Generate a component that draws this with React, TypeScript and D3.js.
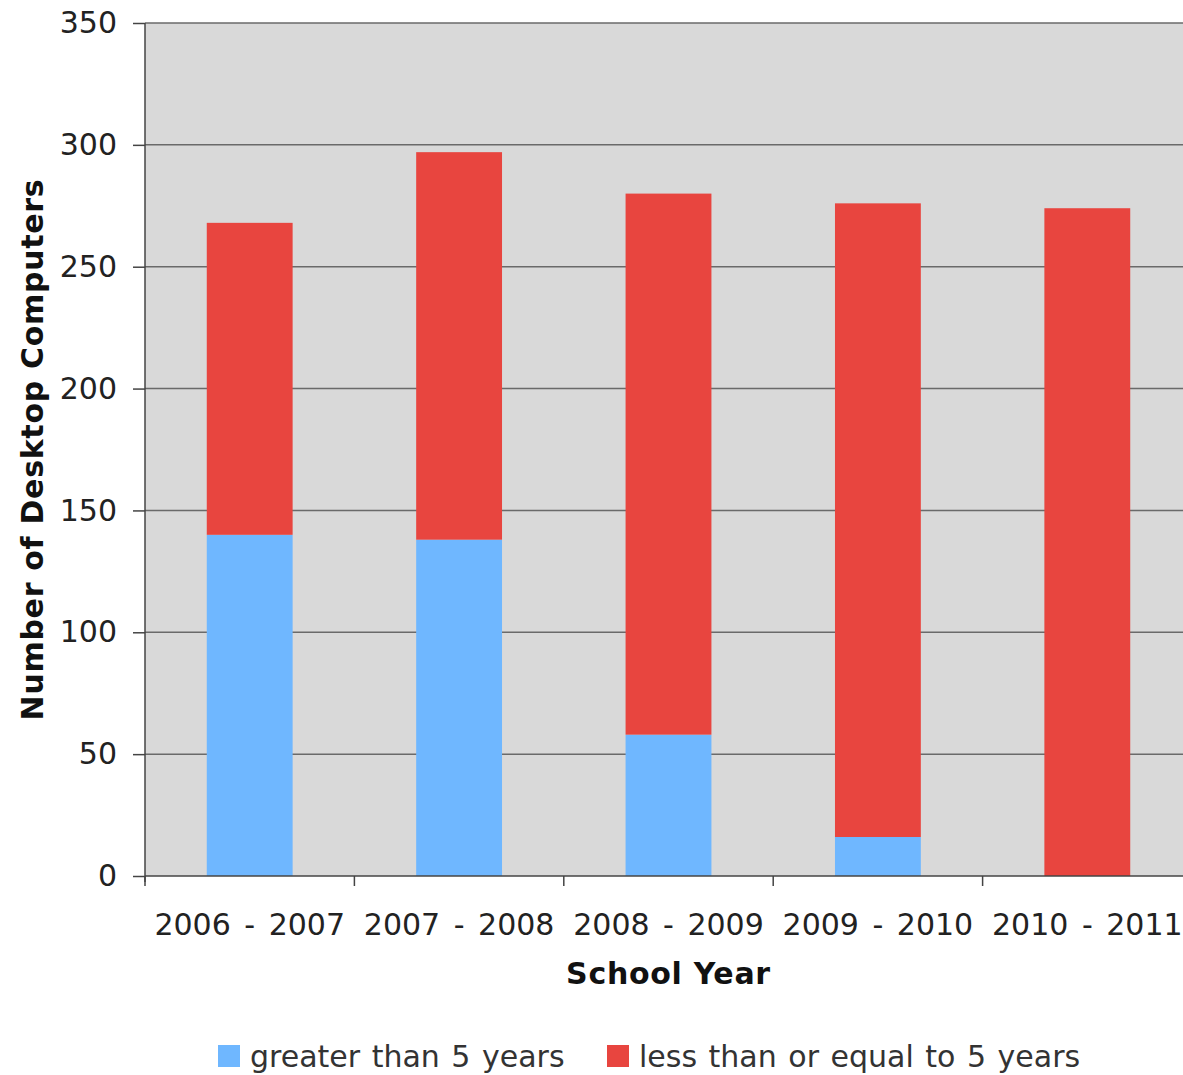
import React, { useRef, useEffect } from 'react';
import * as d3 from 'd3';

const schoolYears = ['2006 - 2007', '2007 - 2008', '2008 - 2009', '2009 - 2010', '2010 - 2011'];
const olderThanFive = [140, 138, 58, 16, 0];
const fiveOrNewer = [128, 159, 222, 260, 274];
const seriesNames = ['greater than 5 years', 'less than or equal to 5 years'];
const seriesColors = ['#6fb7ff', '#e8453f'];
const yTicks = [0, 50, 100, 150, 200, 250, 300, 350];

const App: React.FC = () => {
  const chartRef = useRef<SVGSVGElement | null>(null);

  useEffect(() => {
    if (!chartRef.current) return;

    d3.select(chartRef.current).selectAll('*').remove();

    const width = 1183;
    const height = 1075;
    const margin = { top: 23, right: -9, bottom: 199, left: 145 };
    const font = '"DejaVu Sans", Verdana, sans-serif';

    const svg = d3.select(chartRef.current)
      .attr('width', width)
      .attr('height', height);

    const x = d3.scaleBand<string>()
      .domain(schoolYears)
      .range([margin.left, width - margin.right])
      .paddingInner(0.59)
      .paddingOuter(0.295);

    const y = d3.scaleLinear()
      .domain([0, 350])
      .range([height - margin.bottom, margin.top]);

    // Plot background
    svg.append('rect')
      .attr('x', margin.left)
      .attr('y', margin.top)
      .attr('width', width - margin.right - margin.left)
      .attr('height', y(0) - margin.top)
      .attr('fill', '#d9d9d9');

    // Gridlines
    svg.append('g')
      .selectAll('line')
      .data(yTicks.filter(d => d > 0))
      .join('line')
      .attr('x1', margin.left)
      .attr('x2', width - margin.right)
      .attr('y1', d => y(d))
      .attr('y2', d => y(d))
      .attr('stroke', '#6a6a6a')
      .attr('stroke-width', 1.5);

    // Stacked bars
    const rows = schoolYears.map((year, i) => ({
      year,
      older: olderThanFive[i],
      newer: fiveOrNewer[i]
    }));
    const stack = d3.stack<typeof rows[number]>().keys(['older', 'newer']);
    const layers = stack(rows);

    svg.append('g')
      .selectAll('g')
      .data(layers)
      .join('g')
      .attr('fill', (_, i) => seriesColors[i])
      .selectAll('rect')
      .data(d => d)
      .join('rect')
      .attr('x', d => x(d.data.year) || 0)
      .attr('width', x.bandwidth())
      .attr('y', d => y(d[1]))
      .attr('height', d => y(d[0]) - y(d[1]));

    // Y axis
    svg.append('g')
      .attr('transform', `translate(${margin.left},0)`)
      .call(d3.axisLeft(y).tickValues(yTicks).tickSize(12).tickPadding(16))
      .call(g => g.select('.domain').attr('stroke', '#444').attr('stroke-width', 1.5).attr('d', `M0,${y(350)}V${y(0) + 6}`))
      .call(g => g.selectAll('.tick line').attr('stroke', '#444').attr('stroke-width', 1.5))
      .selectAll('.tick text')
      .attr('font-family', font)
      .attr('font-size', 30)
      .attr('fill', '#222');

    // X axis
    const boundaries = schoolYears.map(d => (x(d) || 0) - x.step() * x.paddingInner() / 2);
    const xAxis = svg.append('g')
      .attr('transform', `translate(0,${y(0)})`);
    xAxis.append('line')
      .attr('x1', margin.left)
      .attr('x2', width - margin.right)
      .attr('stroke', '#444')
      .attr('stroke-width', 1.5);
    xAxis.selectAll('line.tick')
      .data(boundaries)
      .join('line')
      .attr('class', 'tick')
      .attr('x1', d => d)
      .attr('x2', d => d)
      .attr('y1', 0)
      .attr('y2', 10)
      .attr('stroke', '#444')
      .attr('stroke-width', 1.5);
    xAxis.selectAll('text')
      .data(schoolYears)
      .join('text')
      .attr('x', d => (x(d) || 0) + x.bandwidth() / 2)
      .attr('y', 59)
      .attr('text-anchor', 'middle')
      .attr('font-family', font)
      .attr('font-size', 30)
      .attr('word-spacing', 4)
      .attr('fill', '#222')
      .text(d => d);

    // Axis titles
    svg.append('text')
      .attr('x', (margin.left + width - margin.right) / 2)
      .attr('y', 984)
      .attr('text-anchor', 'middle')
      .attr('font-family', font)
      .attr('font-size', 30)
      .attr('letter-spacing', 0.7)
      .attr('font-weight', 'bold')
      .attr('fill', '#111')
      .text('School Year');

    svg.append('text')
      .attr('transform', `translate(43,${(y(0) + y(350)) / 2}) rotate(-90)`)
      .attr('text-anchor', 'middle')
      .attr('font-family', font)
      .attr('font-size', 30)
      .attr('letter-spacing', 0.7)
      .attr('font-weight', 'bold')
      .attr('fill', '#111')
      .text('Number of Desktop Computers');

    // Legend
    const legendX = [218, 607];
    const legend = svg.append('g')
      .selectAll('g')
      .data(seriesNames)
      .join('g')
      .attr('transform', (_, i) => `translate(${legendX[i]},1045)`);
    legend.append('rect')
      .attr('width', 22)
      .attr('height', 22)
      .attr('fill', (_, i) => seriesColors[i]);
    legend.append('text')
      .attr('x', 32)
      .attr('y', 22)
      .attr('font-family', font)
      .attr('font-size', 30)
      .attr('word-spacing', 2)
      .attr('fill', '#333')
      .text(d => d);
  }, []);

  return (
    <div style={{ position: 'absolute', left: 0, top: 0, width: 1183, height: 1075, overflow: 'hidden', background: '#fff' }}>
      <svg ref={chartRef} style={{ display: 'block' }} />
    </div>
  );
};

export default App;
